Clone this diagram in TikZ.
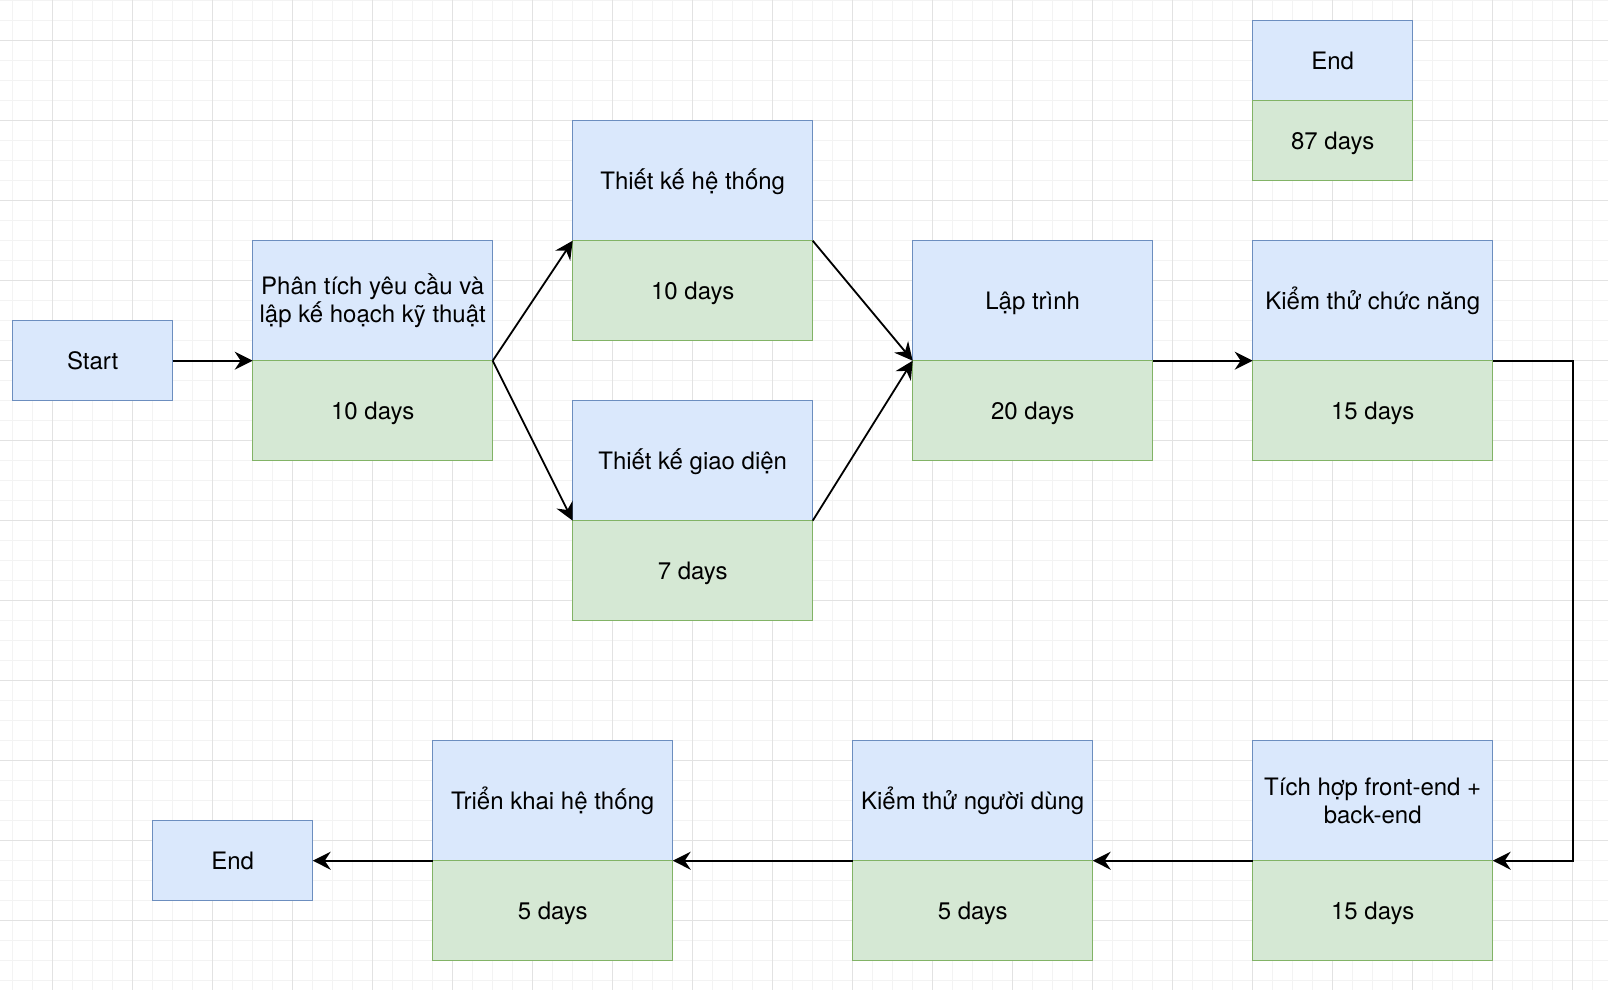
\documentclass[tikz,border=0pt]{standalone}
\usepackage{fontspec}
\setmainfont{TeX Gyre Heros}
\usepackage{tikz}
\usetikzlibrary{positioning,arrows.meta}
\definecolor{headfill}{HTML}{DAE8FC}
\definecolor{headline}{HTML}{6C8EBF}
\definecolor{dayfill}{HTML}{D5E8D4}
\definecolor{dayline}{HTML}{82B366}
\definecolor{gridminor}{HTML}{F3F3F3}
\definecolor{gridmajor}{HTML}{E2E2E2}

\begin{document}
\begin{tikzpicture}[x=10pt, y=-10pt, lbl/.style={font=\fontsize{12}{13.9}\selectfont}, >={Stealth[length=9pt,width=9pt,inset=3pt]}]
\tikzstyle{head}=[rectangle, draw=headline, fill=headfill, line width=0.75pt, outer sep=0pt, inner sep=2pt, align=center, lbl, minimum width=120pt, minimum height=60pt]
\tikzstyle{task}=[head, text height=11pt, text depth=2.6pt]
\tikzstyle{days}=[rectangle, draw=dayline, fill=dayfill, line width=0.75pt, outer sep=0pt, inner sep=2pt, lbl, text height=11pt, text depth=2.6pt, minimum width=120pt, minimum height=50pt]
\tikzstyle{term}=[task, minimum width=80pt, minimum height=40pt]
\tikzstyle{link}=[->, line width=0.9pt]
\useasboundingbox (-0.635,-0.035) rectangle (79.765,49.465);
% grid
\foreach \x in {0,...,79}{\draw[gridminor, line width=0.5pt] (\x,-0.035) -- (\x,49.465);}
\foreach \y in {0,...,49}{\draw[gridminor, line width=0.5pt] (-0.635,\y) -- (79.765,\y);}
\foreach \x in {2,6,...,78}{\draw[gridmajor, line width=0.5pt] (\x,-0.035) -- (\x,49.465);}
\foreach \y in {2,6,...,46}{\draw[gridmajor, line width=0.5pt] (-0.635,\y) -- (79.765,\y);}
% tasks
\node[term] (start) at (4,18) {Start};
\node[head] (pt) at (18,15) {Phân tích yêu cầu và\\lập kế hoạch kỹ thuật};
\node[days, below=0pt of pt] (ptd) {10 days};
\node[task] (tkht) at (34,9) {Thiết kế hệ thống};
\node[days, below=0pt of tkht] (tkhtd) {10 days};
\node[task] (tkgd) at (34,23) {Thiết kế giao diện};
\node[days, below=0pt of tkgd] (tkgdd) {7 days};
\node[task] (lt) at (51,15) {Lập trình};
\node[days, below=0pt of lt] (ltd) {20 days};
\node[task] (kt) at (68,15) {Kiểm thử chức năng};
\node[days, below=0pt of kt] (ktd) {15 days};
\node[head] (th) at (68,40) {Tích hợp front-end +\\back-end};
\node[days, below=0pt of th] (thd) {15 days};
\node[task] (nd) at (48,40) {Kiểm thử người dùng};
\node[days, below=0pt of nd] (ndd) {5 days};
\node[task] (tk) at (27,40) {Triển khai hệ thống};
\node[days, below=0pt of tk] (tkd) {5 days};
\node[term] (end) at (11,43) {End};
\node[term] (fin) at (66,3) {End};
\node[days, minimum width=80pt, minimum height=40pt, below=0pt of fin] (find) {87 days};
% links
\draw[link] (start.east) -- (pt.south west);
\foreach \i/\j in {pt/tkht,pt/tkgd,tkht/lt,tkgd/lt,lt/kt}{\draw[link] (\i.south east) -- (\j.south west);}
\draw[link] (kt.south east) -- ++(4,0) |- (th.south east);
\foreach \i/\j in {th/nd,nd/tk}{\draw[link] (\i.south west) -- (\j.south east);}
\draw[link] (tk.south west) -- (end.east);
\end{tikzpicture}
\end{document}
